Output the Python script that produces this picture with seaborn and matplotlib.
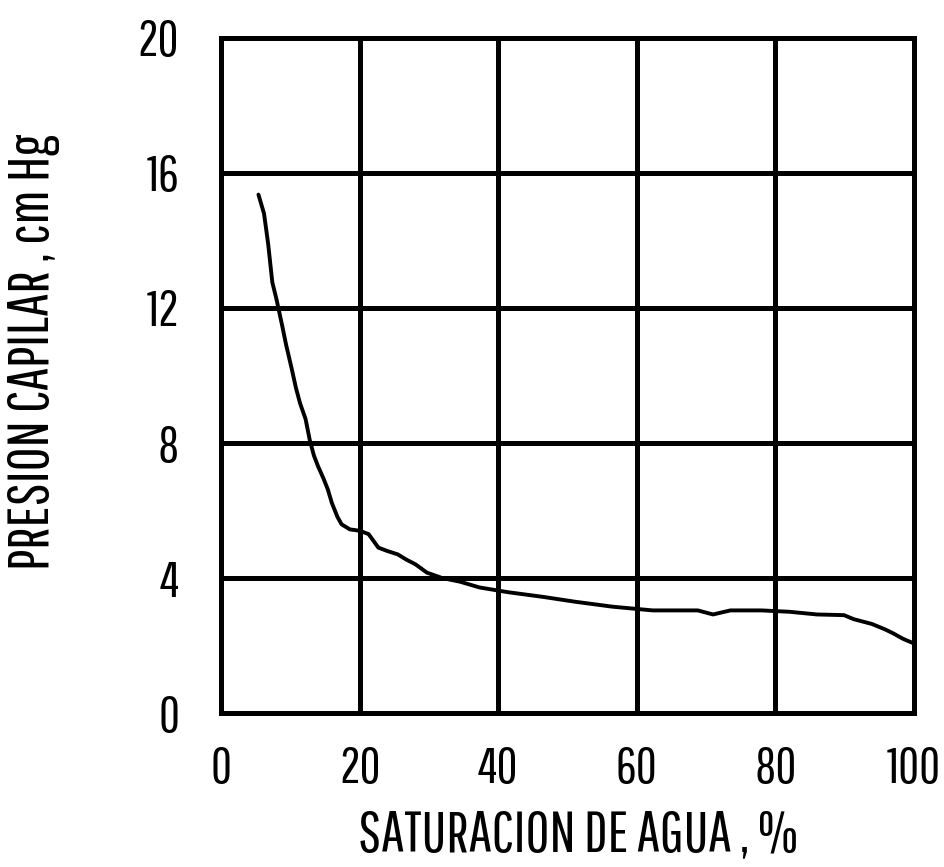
import matplotlib
matplotlib.use("Agg")
import matplotlib.pyplot as plt
import seaborn as sns
import pandas as pd

# Data
saturacion = [5.4, 6.2, 6.8, 7.4, 8.0, 8.8, 9.4, 10.2, 10.8, 11.4, 12.2, 12.8,
              13.4, 14.0, 14.8, 15.4, 16.0, 16.8, 17.4, 18.6, 20.0, 21.3, 22.7,
              24.0, 25.5, 26.7, 28.1, 29.7, 31.9, 34.5, 37.3, 41.4, 46.5, 51.0,
              56.5, 62.3, 68.8, 71.0, 73.5, 78.0, 82.0, 86.0, 89.9, 91.3, 93.9,
              95.8, 97.0, 98.4, 100.0]
presion = [15.36, 14.8, 13.9, 12.76, 12.26, 11.5, 10.9, 10.2, 9.64, 9.18, 8.71,
           8.09, 7.63, 7.31, 6.94, 6.63, 6.22, 5.81, 5.59, 5.44, 5.4, 5.3, 4.9,
           4.8, 4.7, 4.55, 4.4, 4.16, 4.0, 3.89, 3.72, 3.58, 3.44, 3.30, 3.15,
           3.04, 3.04, 2.92, 3.04, 3.04, 3.0, 2.92, 2.9, 2.78, 2.64, 2.48, 2.36,
           2.2, 2.06]
x_ticks = [0, 20, 40, 60, 80, 100]
y_ticks = [0, 4, 8, 12, 16, 20]
x_label = "SATURACION DE AGUA , %"
y_label = "PRESION CAPILAR , cm Hg"

df = pd.DataFrame({"sat": saturacion, "pc": presion})

sns.set_theme(style="white")
plt.rcParams['font.family'] = ['Pathway Gothic One', 'DejaVu Sans']

fig = plt.figure(figsize=(9.45, 8.67), dpi=100)
ax = fig.add_axes([0.2339, 0.1776, 0.7333, 0.7786])

sns.lineplot(data=df, x="sat", y="pc", sort=False, estimator=None,
             color="black", linewidth=2.8, ax=ax)

ax.set_xlim(0, 100)
ax.set_ylim(0, 20)
ax.set_xticks(x_ticks)
ax.set_yticks(y_ticks)
ax.set_xticklabels([str(v) for v in x_ticks])
ax.set_yticklabels([str(v) for v in y_ticks])
ax.grid(True, color="black", linewidth=3.6)
ax.set_axisbelow(False)
for sp in ax.spines.values():
    sp.set_color("black")
    sp.set_linewidth(3.6)
    sp.set_visible(True)
ax.tick_params(axis="both", length=0, labelsize=37, colors="black")
ax.tick_params(axis="x", pad=24)
ax.tick_params(axis="y", pad=30)
ax.set_xlabel(x_label, fontsize=42, color="black", va="center")
ax.set_ylabel(y_label, fontsize=42, color="black", va="center")
ax.xaxis.set_label_coords(0.515, -0.181)
ax.yaxis.set_label_coords(-0.27, 0.535)

fig.savefig("out.png", dpi=100, facecolor="white")
